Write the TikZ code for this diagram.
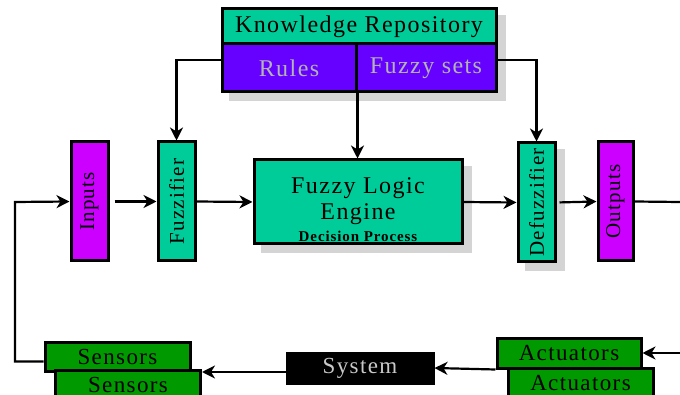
\documentclass[tikz,border=0pt]{standalone}
\usepackage{fontspec}
\usepackage{graphicx}
\setmainfont{Liberation Serif}[LetterSpace=6]
\usetikzlibrary{arrows.meta,backgrounds}
\definecolor{tealbox}{HTML}{00CC99}
\definecolor{violetbox}{HTML}{6600FF}
\definecolor{magbox}{HTML}{CC00FF}
\definecolor{greenbox}{HTML}{009900}
\definecolor{shadowgray}{HTML}{D4D4D4}
\definecolor{dimtext}{HTML}{B4B4B4}
\definecolor{systext}{HTML}{C8C8C8}
\begin{document}
\begin{tikzpicture}[x=1pt,y=-1pt,
  box/.style={draw=black, line width=3pt, inner sep=0pt, align=center},
  vbox/.style={box, minimum width=37pt, minimum height=119pt, font=\fontsize{21}{23}\selectfont},
  lowbox/.style={box, fill=greenbox, minimum width=145pt, minimum height=30pt, font=\fontsize{23}{25}\selectfont},
  conn/.style={line width=2.2pt},
  arr/.style={conn, -{Stealth[length=13pt,width=13pt,inset=4pt]}},
  shadowfill/.style={fill=shadowgray, draw=none}]
\useasboundingbox (0,0) rectangle (680,395);

% knowledge repository block
\node[box, fill=tealbox, minimum width=274pt, minimum height=35pt,
      font=\fontsize{24}{26}\selectfont] (kr) at (359,26.5) {Knowledge Repository};
\node[box, fill=violetbox, minimum width=134pt, minimum height=48pt,
      font=\fontsize{24}{26}\selectfont, text=dimtext] (rules) at (289,68) {Rules};
\node[box, fill=violetbox, minimum width=140pt, minimum height=48pt,
      font=\fontsize{24}{26}\selectfont, text=dimtext] (fsets) at (426,68) {Fuzzy sets};

% processing chain
\node[vbox, fill=magbox] (inputs) at (89.5,201.5) {\rotatebox{90}{Inputs}};
\node[vbox, fill=tealbox] (fuzz) at (176.5,201.5) {\rotatebox{90}{Fuzzifier}};
\node[box, fill=tealbox, minimum width=208pt, minimum height=84pt] (engine) at (358,202) {};
\node[align=center, inner sep=0pt, font=\fontsize{24}{26}\selectfont] (enginetext)
  at ([yshift=-8pt]engine.center)
  {Fuzzy Logic\\ Engine\\[-4pt]
   {\fontsize{15}{17}\selectfont\bfseries Decision Process}};
\node[vbox, fill=tealbox] (defuzz) at (536.5,202.5) {\rotatebox{90}{Defuzzifier}};
\node[vbox, fill=magbox, minimum width=35pt] (outputs) at (615.5,201.5) {\rotatebox{90}{Outputs}};

% plant loop
\node[lowbox, minimum height=29pt] (sens1) at (117.5,356.5) {Sensors};
\node[lowbox, minimum height=29pt] (sens2) at (128,384.5) {Sensors};
\node[box, fill=black, text=systext, minimum width=146pt, minimum height=30pt,
      font=\fontsize{23}{25}\selectfont] (sys) at (360,368) {System};
\node[lowbox, minimum width=144pt] (act1) at (569,353) {Actuators};
\node[lowbox] (act2) at (580.5,383) {Actuators};

% drop shadows
\begin{scope}[on background layer]
  \fill[shadowfill] ([shift={(8,8)}]kr.north west) rectangle ([shift={(8,8)}]fsets.south east);
  \fill[shadowfill] ([shift={(8,8)}]engine.north west) rectangle ([shift={(8,8)}]engine.south east);
  \fill[shadowfill] ([shift={(8,8)}]defuzz.north west) rectangle ([shift={(8,8)}]defuzz.south east);
\end{scope}

\coordinate (fbc) at (15,202);
\coordinate (outR) at (680,202);
\coordinate (inR) at (680,353);

% connectors
\draw[arr] ([yshift=8pt]rules.west) -| (fuzz.north);
\draw[arr] ([yshift=8pt]fsets.east) -| (defuzz.north);
\draw[arr] (rules.south east) -- (rules.south east |- engine.north);
\draw[arr, shorten <=5pt] (inputs.east) -- (fuzz.west);
\draw[arr] (fuzz.east) -- (engine.west);
\draw[arr] (engine.east) -- (defuzz.west);
\draw[arr, shorten <=3pt] (defuzz.east) -- (outputs.west);
\draw[conn] (outputs.east) -- (outR);
\draw[arr] ([yshift=-5pt]sens1.west) -| (fbc) -- (inputs.west);
\draw[arr] ([yshift=-4pt]sys.west) -- ([yshift=-4pt]sys.west -| sens2.east);
\draw[arr] (inR) -- (act1.east);
\draw[arr] (act1.south west) -- (sys.east);
\end{tikzpicture}
\end{document}
